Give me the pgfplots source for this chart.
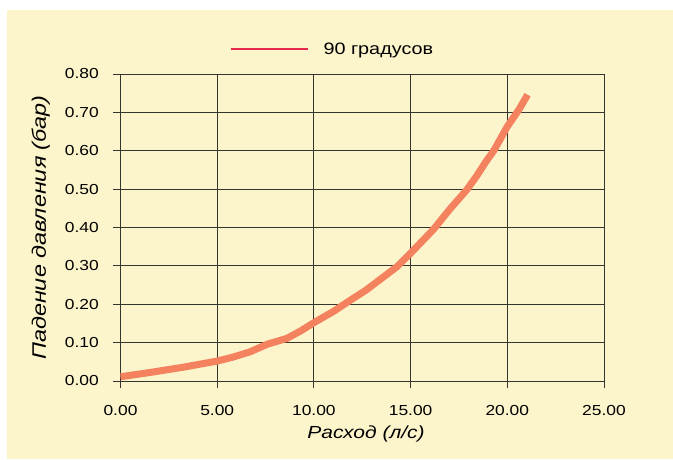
\documentclass[border=0pt]{standalone}
\usepackage{fontspec}
\setmainfont{Liberation Sans}[FakeStretch=1.2]
\usepackage{pgfplots}
\pgfplotsset{compat=1.18}
\definecolor{bgc}{HTML}{FCF4CB}
\definecolor{curvec}{HTML}{F4825E}
\definecolor{legred}{HTML}{E52A4B}
\definecolor{gridc}{HTML}{35352F}
\pgfplotstableread{
x y
0.0 0.011
1.5 0.022
3.25 0.036
5.0 0.052
5.8 0.062
6.7 0.076
7.6 0.096
8.6 0.111
9.3 0.130
10.0 0.152
11.0 0.181
11.9 0.211
12.7 0.237
14.3 0.298
15.0 0.333
16.2 0.396
17.0 0.446
17.9 0.498
18.4 0.533
18.9 0.572
19.3 0.600
20.0 0.663
20.6 0.707
21.05 0.746
}\datatable
\begin{document}
\begin{tikzpicture}[x=1pt,y=1pt]
\fill[white] (0,0) rectangle (673,459);
\fill[bgc] (7,0) rectangle (673,449);
\begin{axis}[
  at={(120.5pt,78pt)}, anchor=south west,
  scale only axis, width=483.5pt, height=307pt,
  xmin=0, xmax=25, ymin=0, ymax=0.8,
  xtick={0,5,10,15,20,25},
  ytick={0,0.1,0.2,0.3,0.4,0.5,0.6,0.7,0.8},
  grid=major,
  major grid style={gridc, line width=0.8pt},
  axis line style={gridc, line width=0.8pt},
  tick style={gridc, line width=0.8pt},
  tick align=outside, major tick length=7pt,
  xtick pos=bottom, ytick pos=left,
  /pgf/number format/assume math mode=true,
  xticklabel style={font=\fontsize{14.5}{16}\selectfont, anchor=north, inner sep=0pt, yshift=-17pt,
     /pgf/number format/.cd, fixed, fixed zerofill, precision=2},
  yticklabel style={font=\fontsize{14.5}{16}\selectfont, anchor=east, inner sep=0pt, xshift=-14.5pt,
     /pgf/number format/.cd, fixed, fixed zerofill, precision=2},
  xlabel={Расход (л/с)},
  ylabel={Падение давления (бар)},
  xlabel style={font=\fontsize{17.5}{19}\selectfont\itshape, at={(axis description cs:0.508,-0.187)}, anchor=base},
  ylabel style={font=\fontsize{19.5}{21}\selectfont\itshape, at={(axis description cs:-0.165,0.5)}, anchor=center},
  legend style={at={(axis description cs:0.2265,1.081)}, anchor=west, draw=none, fill=none,
     inner sep=0pt, outer sep=0pt, font=\fontsize{16.5}{18}\selectfont,
     /tikz/every odd column/.style={column sep=12pt}},
  legend image code/.code={\draw[#1] (0pt,0pt) -- (77pt,0pt);},
]
\addplot[curvec, line width=7pt, line cap=butt, line join=round, forget plot] table[x=x,y=y] {\datatable};
\addlegendimage{legred, line width=2.5pt}
\addlegendentry{90 градусов}
\end{axis}
\pgfresetboundingbox
\path (0,0) rectangle (673,459);
\end{tikzpicture}
\end{document}
